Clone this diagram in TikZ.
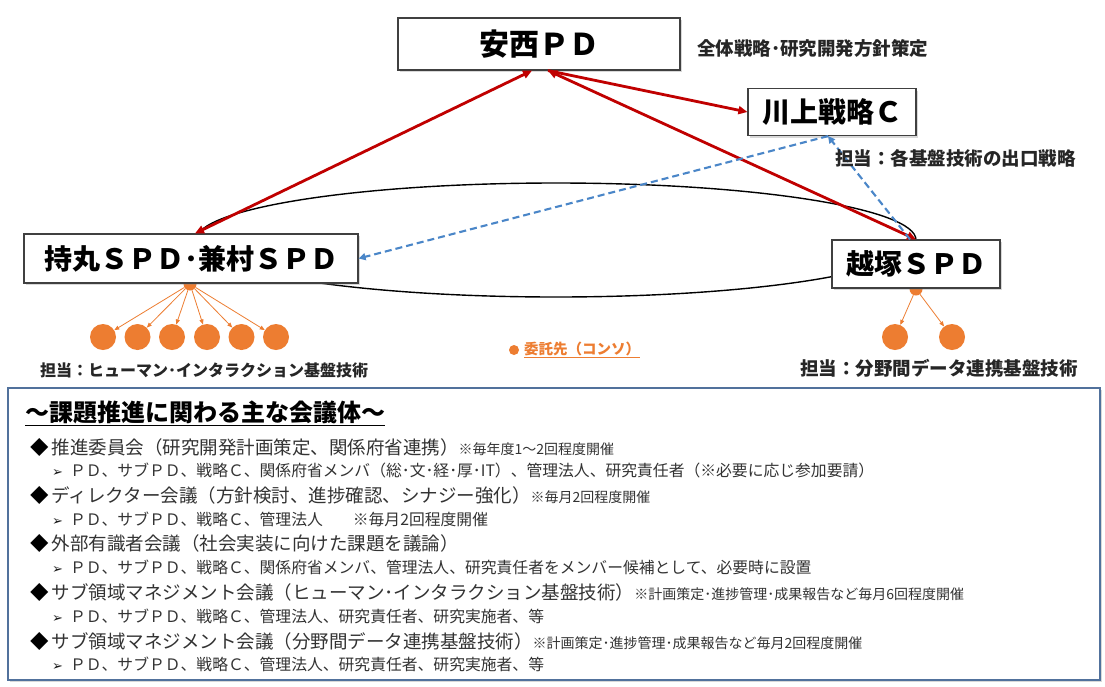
\documentclass[tikz,border=0pt]{standalone}
\usepackage{fontspec}
\setmainfont{Noto Sans CJK JP}
\newfontfamily\symfont{DejaVu Sans}
\usetikzlibrary{arrows.meta,shadows}
\definecolor{arrowred}{HTML}{C00000}
\definecolor{linkblue}{HTML}{4A86C8}
\definecolor{consorange}{HTML}{ED7D31}
\definecolor{frameblue}{HTML}{51719C}

\begin{document}
\begin{tikzpicture}[x = 1pt, y = -1pt,
    leader/.style = {draw = black!75, line width = 1.2pt, rectangle, fill = white, inner sep = 0pt, font = \bfseries\fontsize{28}{30}\selectfont, drop shadow = {shadow xshift = 2pt, shadow yshift = -2pt, opacity = 0.3}},
    note/.style = {anchor = west, inner sep = 0pt, font = \bfseries\fontsize{18.5}{20}\selectfont, text = black!85},
    red_link/.style = {line width = 2.8pt, draw = arrowred},
    blue_link/.style = {-{Triangle[length = 7pt, width = 7pt]}, line width = 2.1pt, draw = linkblue, dash pattern = on 7pt off 4pt},
    cons/.style = {circle, fill = consorange, minimum size = 26pt, inner sep = 0pt},
    cons_link/.style = {-{Triangle[length = 5pt, width = 4pt]}, line width = 0.8pt, draw = consorange},
    item/.style = {anchor = west, inner sep = 0pt, font = \fontsize{18.5}{20}\selectfont, text = black!80},
    subitem/.style = {anchor = west, inner sep = 0pt, font = \fontsize{15.8}{18}\selectfont, text = black!80}]
      \useasboundingbox (0, 0) rectangle (1105, 686);
      \fill [white] (0, 0) rectangle (1105, 686);

      \draw [line width = 1.4pt] (556, 240) ellipse [x radius = 360, y radius = 57];
      \node (hub_left) [circle, fill = consorange, minimum size = 13pt, inner sep = 0pt] at (190, 284) {};
      \node (hub_right) [circle, fill = consorange, minimum size = 13pt, inner sep = 0pt] at (916, 289) {};

      \node (anxi) [leader, minimum width = 282pt, minimum height = 52pt, font = \bfseries\fontsize{30}{32}\selectfont] at (539, 44) {安西ＰＤ};
      \node (kawa) [leader, minimum width = 168pt, minimum height = 47pt] at (832, 112) {川上戦略Ｃ};
      \node (mochi) [leader, minimum width = 334pt, minimum height = 49pt] at (191, 258.5) {持丸ＳＰＤ･兼村ＳＰＤ};
      \node (koshi) [leader, minimum width = 168pt, minimum height = 48pt] at (916, 264) {越塚ＳＰＤ};

      \draw [red_link, {Triangle[length = 9pt, width = 8pt]}-{Triangle[length = 9pt, width = 8pt]}] ([xshift = 4pt]mochi.north) -- ([xshift = -7pt]anxi.south);
      \draw [red_link, {Triangle[length = 9pt, width = 8pt]}-{Triangle[length = 9pt, width = 8pt]}] (koshi.north) -- ([xshift = 9pt]anxi.south);
      \draw [red_link, -{Triangle[length = 9pt, width = 8pt]}] ([xshift = 9pt]anxi.south) -- (kawa.west);

      \draw [blue_link] ([xshift = -4pt]kawa.south) -- (mochi.east);
      \draw [blue_link] ([xshift = -6pt]koshi.north) -- ([xshift = -4pt]kawa.south);

      % consortium members
      \foreach \x [count = \i] in {103, 137.5, 172, 207, 241.5, 276}
        \node (left_cons\i) [cons] at (\x, 337) {};
      \foreach \i in {1, ..., 6}
        \draw [cons_link] (hub_left) -- (left_cons\i);
      \node (right_cons1) [cons] at (895, 337) {};
      \node (right_cons2) [cons] at (952, 337) {};
      \draw [cons_link] (hub_right) -- (right_cons1);
      \draw [cons_link] (hub_right) -- (right_cons2);

      \node (anxi_note) [note] at (697, 48) {全体戦略･研究開発方針策定};
      \node (kawa_note) [note] at (835, 158) {担当：各基盤技術の出口戦略};
      \node (mochi_note) [note, font = \bfseries\fontsize{16}{18}\selectfont] at (40, 370) {担当：ヒューマン･インタラクション基盤技術};
      \node (koshi_note) [note] at (800, 368) {担当：分野間データ連携基盤技術};

      \node (legend_dot) [circle, fill = consorange, minimum size = 10pt, inner sep = 0pt] at (514, 350) {};
      \node (legend) [anchor = west, inner sep = 0pt, text = consorange, font = \bfseries\fontsize{14.5}{16}\selectfont] at (524, 350) {\underline{委託先（コンソ）}};

      % meetings
      \node (meetings) [draw = frameblue, line width = 2.5pt, fill = white, minimum width = 1092pt, minimum height = 292pt, inner sep = 0pt, drop shadow = {shadow xshift = 2pt, shadow yshift = -2pt, opacity = 0.3}] at (554, 534) {};
      \node (meetings_title) [anchor = west, inner sep = 0pt, font = \bfseries\fontsize{24}{26}\selectfont] at (25, 413) {\underline{～課題推進に関わる主な会議体～}};

      \node (item1) [item] at (30, 447) {{\color{black}◆}\hspace{3pt}推進委員会（研究開発計画策定、関係府省連携）{\fontsize{14}{16}\selectfont ※毎年度1～2回程度開催}};
      \node (sub1) [subitem] at (52, 470) {{\symfont\fontsize{13}{14}\selectfont\color{black!90}➢}\hspace{7pt}ＰＤ、サブＰＤ、戦略Ｃ、関係府省メンバ（総･文･経･厚･IT）、管理法人、研究責任者（※必要に応じ参加要請）};
      \node (item2) [item] at (30, 495) {{\color{black}◆}\hspace{3pt}ディレクター会議（方針検討、進捗確認、シナジー強化）{\fontsize{14}{16}\selectfont ※毎月2回程度開催}};
      \node (sub2) [subitem] at (52, 519) {{\symfont\fontsize{13}{14}\selectfont\color{black!90}➢}\hspace{7pt}ＰＤ、サブＰＤ、戦略Ｃ、管理法人\hspace{30pt}※毎月2回程度開催};
      \node (item3) [item] at (30, 543) {{\color{black}◆}\hspace{3pt}外部有識者会議（社会実装に向けた課題を議論）};
      \node (sub3) [subitem] at (52, 567) {{\symfont\fontsize{13}{14}\selectfont\color{black!90}➢}\hspace{7pt}ＰＤ、サブＰＤ、戦略Ｃ、関係府省メンバ、管理法人、研究責任者をメンバー候補として、必要時に設置};
      \node (item4) [item] at (30, 592) {{\color{black}◆}\hspace{3pt}サブ領域マネジメント会議（ヒューマン･インタラクション基盤技術）{\fontsize{14}{16}\selectfont ※計画策定･進捗管理･成果報告など毎月6回程度開催}};
      \node (sub4) [subitem] at (52, 616) {{\symfont\fontsize{13}{14}\selectfont\color{black!90}➢}\hspace{7pt}ＰＤ、サブＰＤ、戦略Ｃ、管理法人、研究責任者、研究実施者、等};
      \node (item5) [item] at (30, 641) {{\color{black}◆}\hspace{3pt}サブ領域マネジメント会議（分野間データ連携基盤技術）{\fontsize{14}{16}\selectfont ※計画策定･進捗管理･成果報告など毎月2回程度開催}};
      \node (sub5) [subitem] at (52, 664) {{\symfont\fontsize{13}{14}\selectfont\color{black!90}➢}\hspace{7pt}ＰＤ、サブＰＤ、戦略Ｃ、管理法人、研究責任者、研究実施者、等};
    \end{tikzpicture}
\end{document}
